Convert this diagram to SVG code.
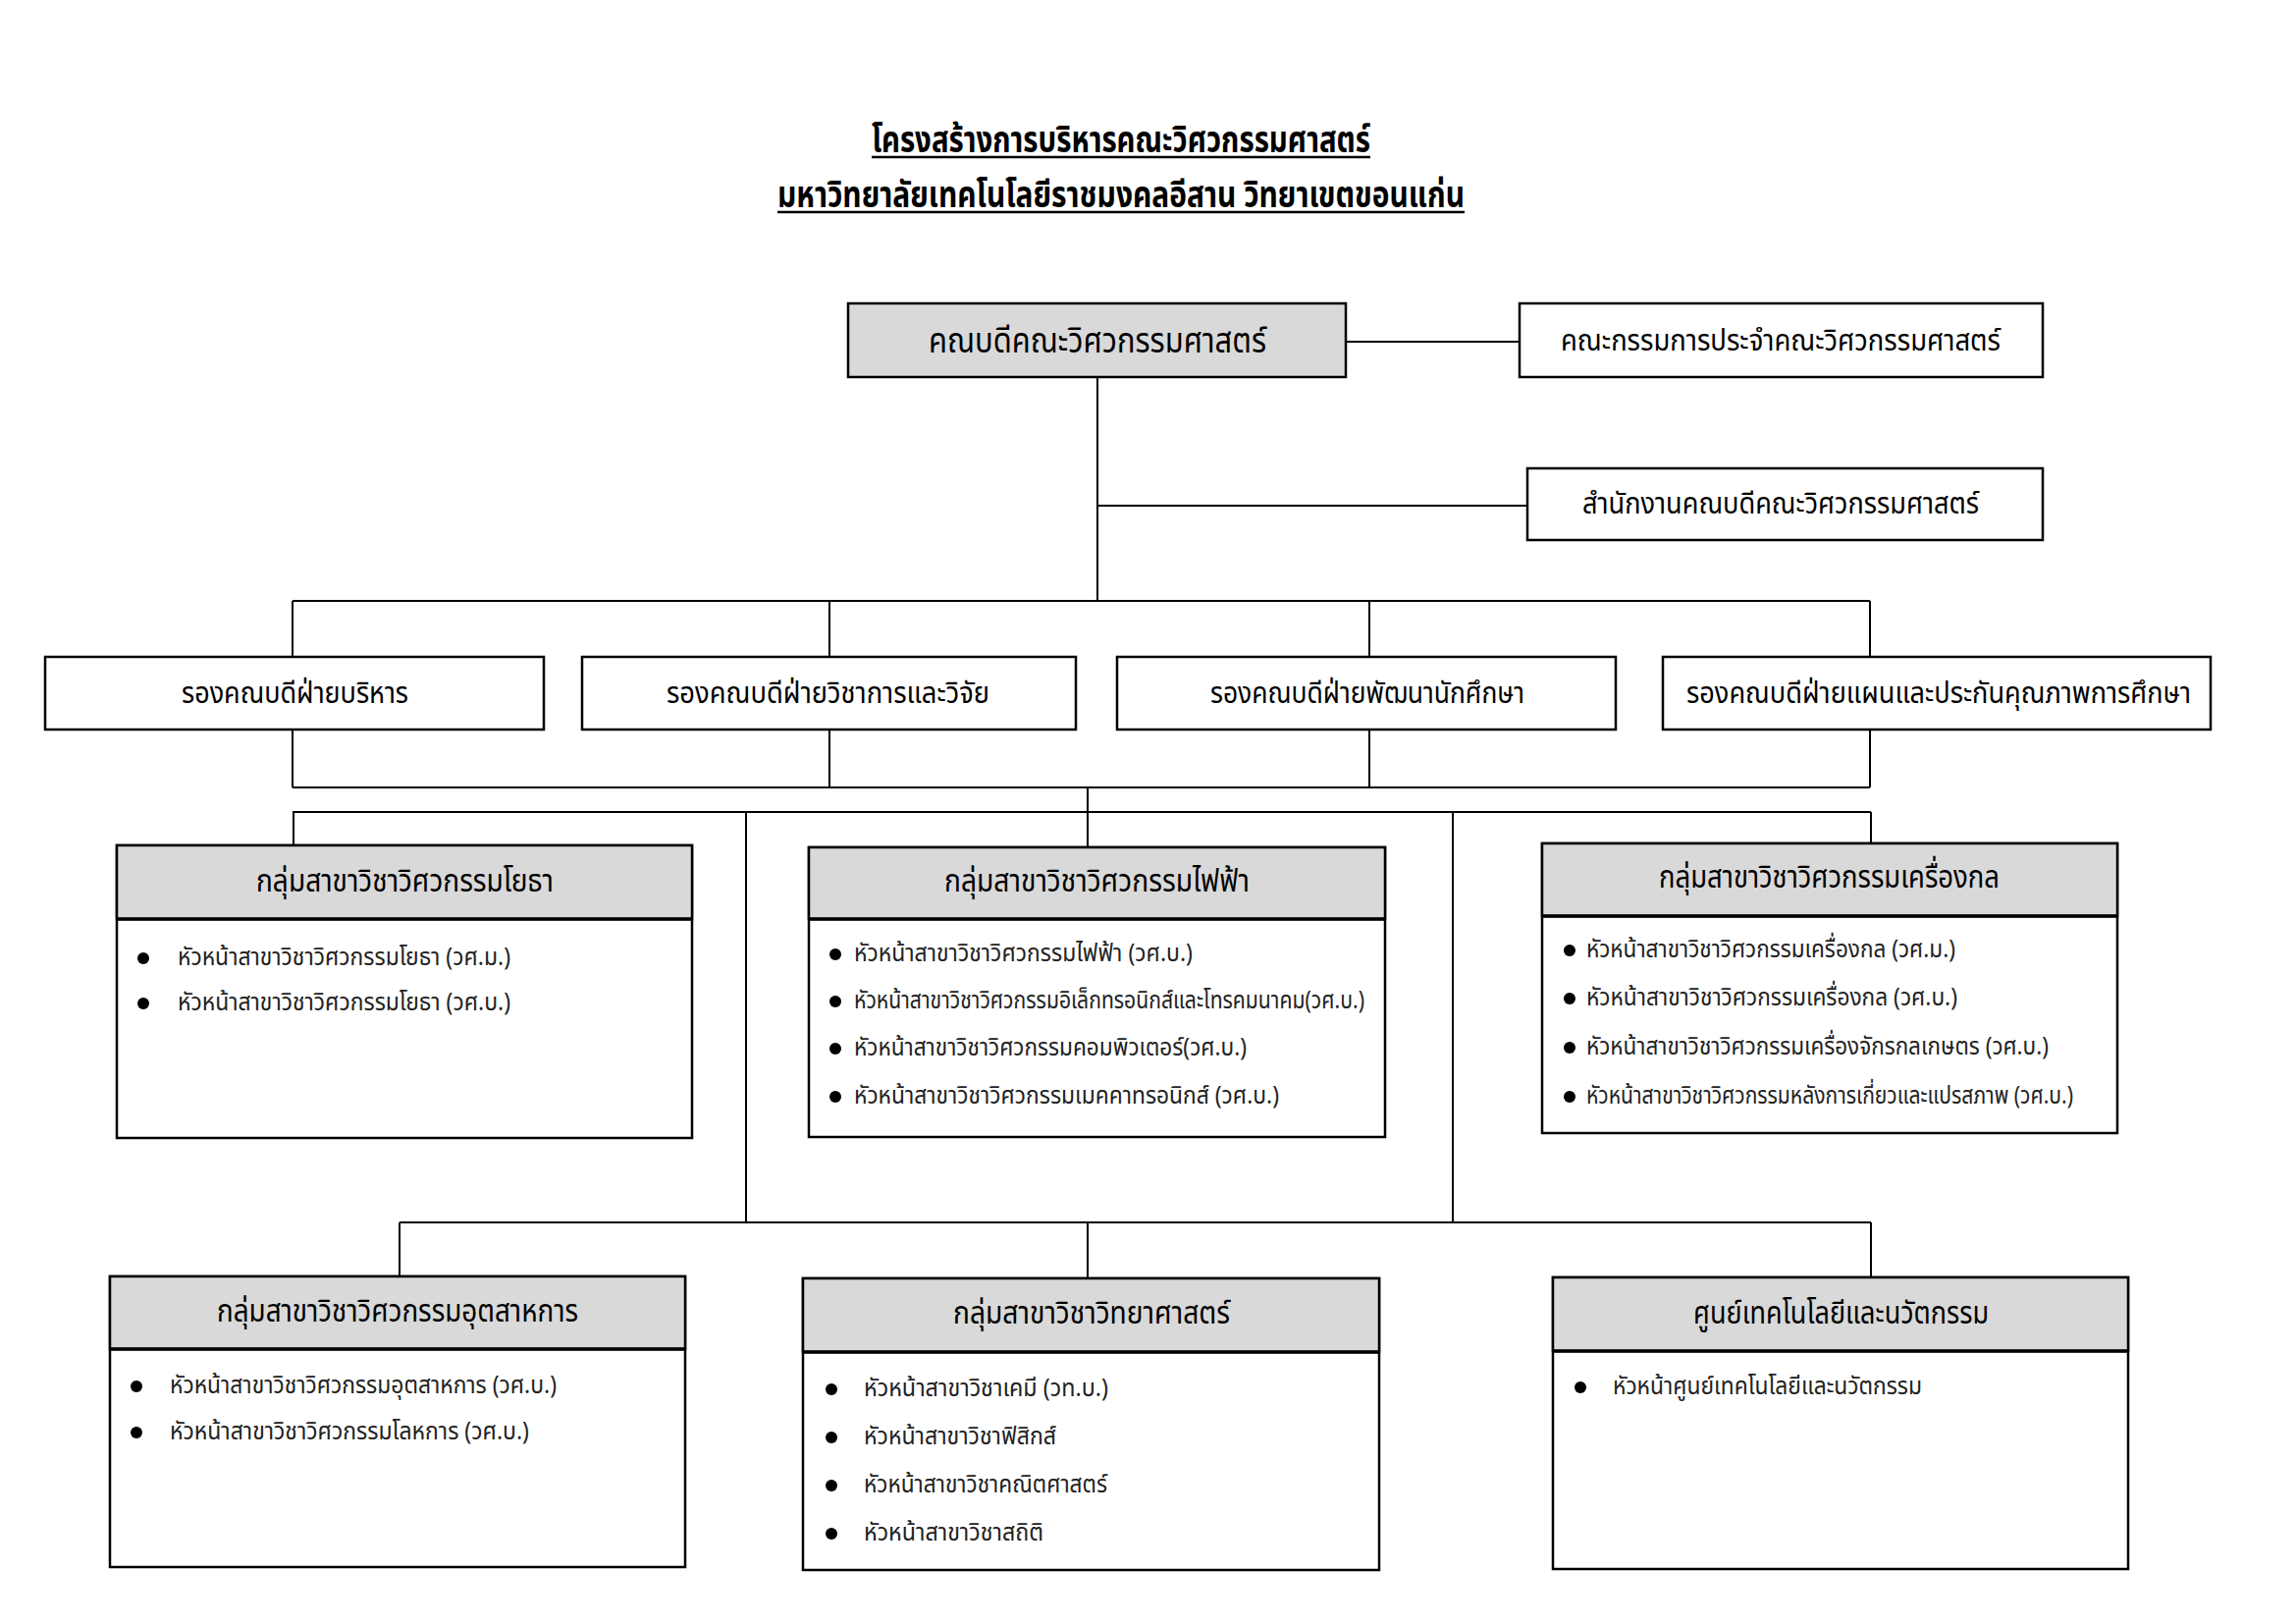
<svg xmlns="http://www.w3.org/2000/svg" width="2339" height="1654" viewBox="0 0 2339 1654">
<style>
.bg{fill:#ffffff}
.box{fill:#ffffff;stroke:#000;stroke-width:2.5}
.gbox{fill:#d9d9d9;stroke:#000;stroke-width:2.5}
.sep{stroke:#000;stroke-width:3.5}
.con{fill:none;stroke:#000;stroke-width:2}
.ul{stroke:#000;stroke-width:2.5}
text{font-family:"Noto Sans Thai","Noto Sans","DejaVu Sans",sans-serif;fill:#000}
.title{font-size:37px;font-weight:bold}
.t1{font-size:36px}
.t2{font-size:31px}
.hd{font-size:32px}
.it{font-size:25px;fill:#222}
.dot{fill:#000}
</style>
<rect class="bg" x="0" y="0" width="2339" height="1654"/>
<g id="title">
<text class="title" x="888" y="155" textLength="508" lengthAdjust="spacingAndGlyphs">โครงสร้างการบริหารคณะวิศวกรรมศาสตร์</text>
<text class="title" x="792" y="211" textLength="700" lengthAdjust="spacingAndGlyphs">มหาวิทยาลัยเทคโนโลยีราชมงคลอีสาน วิทยาเขตขอนแก่น</text>
<line class="ul" x1="888" y1="160" x2="1396" y2="160"/>
<line class="ul" x1="792" y1="216" x2="1492" y2="216"/>
</g>
<g id="connectors">
<line class="con" x1="1371" y1="348" x2="1548" y2="348"/>
<line class="con" x1="1118" y1="384" x2="1118" y2="612"/>
<line class="con" x1="1118" y1="515" x2="1556" y2="515"/>
<line class="con" x1="298" y1="612" x2="1905" y2="612"/>
<line class="con" x1="298" y1="612" x2="298" y2="669"/>
<line class="con" x1="845" y1="612" x2="845" y2="669"/>
<line class="con" x1="1395" y1="612" x2="1395" y2="669"/>
<line class="con" x1="1905" y1="612" x2="1905" y2="669"/>
<line class="con" x1="298" y1="743" x2="298" y2="802"/>
<line class="con" x1="845" y1="743" x2="845" y2="802"/>
<line class="con" x1="1395" y1="743" x2="1395" y2="802"/>
<line class="con" x1="1905" y1="743" x2="1905" y2="802"/>
<line class="con" x1="298" y1="802" x2="1905" y2="802"/>
<line class="con" x1="1108" y1="802" x2="1108" y2="863"/>
<line class="con" x1="298" y1="827" x2="1906" y2="827"/>
<line class="con" x1="299" y1="827" x2="299" y2="861"/>
<line class="con" x1="1906" y1="827" x2="1906" y2="859"/>
<line class="con" x1="760" y1="827" x2="760" y2="1245"/>
<line class="con" x1="1480" y1="827" x2="1480" y2="1245"/>
<line class="con" x1="407" y1="1245" x2="1906" y2="1245"/>
<line class="con" x1="407" y1="1245" x2="407" y2="1300"/>
<line class="con" x1="1108" y1="1245" x2="1108" y2="1302"/>
<line class="con" x1="1906" y1="1245" x2="1906" y2="1301"/>
</g>
<g id="dean">
<rect class="gbox" x="864" y="309" width="507" height="75"/>
<text class="t1" x="946" y="359" textLength="344" lengthAdjust="spacingAndGlyphs">คณบดีคณะวิศวกรรมศาสตร์</text>
</g>
<g id="committee">
<rect class="box" x="1548" y="309" width="533" height="75"/>
<text class="t2" x="1590" y="357" textLength="448" lengthAdjust="spacingAndGlyphs">คณะกรรมการประจำคณะวิศวกรรมศาสตร์</text>
</g>
<g id="office">
<rect class="box" x="1556" y="477" width="525" height="73"/>
<text class="t2" x="1612" y="523" textLength="404" lengthAdjust="spacingAndGlyphs">สำนักงานคณบดีคณะวิศวกรรมศาสตร์</text>
</g>
<g id="vp1">
<rect class="box" x="46" y="669" width="508" height="74"/>
<text class="t2" x="185" y="716" textLength="231" lengthAdjust="spacingAndGlyphs">รองคณบดีฝ่ายบริหาร</text>
</g>
<g id="vp2">
<rect class="box" x="593" y="669" width="503" height="74"/>
<text class="t2" x="679" y="716" textLength="329" lengthAdjust="spacingAndGlyphs">รองคณบดีฝ่ายวิชาการและวิจัย</text>
</g>
<g id="vp3">
<rect class="box" x="1138" y="669" width="508" height="74"/>
<text class="t2" x="1233" y="716" textLength="320" lengthAdjust="spacingAndGlyphs">รองคณบดีฝ่ายพัฒนานักศึกษา</text>
</g>
<g id="vp4">
<rect class="box" x="1694" y="669" width="558" height="74"/>
<text class="t2" x="1718" y="716" textLength="514" lengthAdjust="spacingAndGlyphs">รองคณบดีฝ่ายแผนและประกันคุณภาพการศึกษา</text>
</g>
<g id="civil">
<rect class="box" x="119" y="861" width="586" height="298"/>
<rect class="gbox" x="119" y="861" width="586" height="75"/>
<line class="sep" x1="119" y1="936" x2="705" y2="936"/>
<text class="hd" x="261" y="908" textLength="303" lengthAdjust="spacingAndGlyphs">กลุ่มสาขาวิชาวิศวกรรมโยธา</text>
<circle class="dot" cx="146" cy="976" r="6"/>
<text class="it" x="181" y="983" textLength="339" lengthAdjust="spacingAndGlyphs">หัวหน้าสาขาวิชาวิศวกรรมโยธา (วศ.ม.)</text>
<circle class="dot" cx="146" cy="1022" r="6"/>
<text class="it" x="181" y="1029" textLength="339" lengthAdjust="spacingAndGlyphs">หัวหน้าสาขาวิชาวิศวกรรมโยธา (วศ.บ.)</text>
</g>
<g id="electrical">
<rect class="box" x="824" y="863" width="587" height="295"/>
<rect class="gbox" x="824" y="863" width="587" height="73"/>
<line class="sep" x1="824" y1="936" x2="1411" y2="936"/>
<text class="hd" x="962" y="908" textLength="311" lengthAdjust="spacingAndGlyphs">กลุ่มสาขาวิชาวิศวกรรมไฟฟ้า</text>
<circle class="dot" cx="851" cy="972" r="6"/>
<text class="it" x="870" y="979" textLength="345" lengthAdjust="spacingAndGlyphs">หัวหน้าสาขาวิชาวิศวกรรมไฟฟ้า (วศ.บ.)</text>
<circle class="dot" cx="851" cy="1020" r="6"/>
<text class="it" x="870" y="1027" textLength="520" lengthAdjust="spacingAndGlyphs">หัวหน้าสาขาวิชาวิศวกรรมอิเล็กทรอนิกส์และโทรคมนาคม(วศ.บ.)</text>
<circle class="dot" cx="851" cy="1068" r="6"/>
<text class="it" x="870" y="1075" textLength="400" lengthAdjust="spacingAndGlyphs">หัวหน้าสาขาวิชาวิศวกรรมคอมพิวเตอร์(วศ.บ.)</text>
<circle class="dot" cx="851" cy="1117" r="6"/>
<text class="it" x="870" y="1124" textLength="433" lengthAdjust="spacingAndGlyphs">หัวหน้าสาขาวิชาวิศวกรรมเมคคาทรอนิกส์ (วศ.บ.)</text>
</g>
<g id="mechanical">
<rect class="box" x="1571" y="859" width="586" height="295"/>
<rect class="gbox" x="1571" y="859" width="586" height="74"/>
<line class="sep" x1="1571" y1="933" x2="2157" y2="933"/>
<text class="hd" x="1690" y="904" textLength="347" lengthAdjust="spacingAndGlyphs">กลุ่มสาขาวิชาวิศวกรรมเครื่องกล</text>
<circle class="dot" cx="1599" cy="968" r="6"/>
<text class="it" x="1616" y="975" textLength="376" lengthAdjust="spacingAndGlyphs">หัวหน้าสาขาวิชาวิศวกรรมเครื่องกล (วศ.ม.)</text>
<circle class="dot" cx="1599" cy="1017" r="6"/>
<text class="it" x="1616" y="1024" textLength="378" lengthAdjust="spacingAndGlyphs">หัวหน้าสาขาวิชาวิศวกรรมเครื่องกล (วศ.บ.)</text>
<circle class="dot" cx="1599" cy="1067" r="6"/>
<text class="it" x="1616" y="1074" textLength="471" lengthAdjust="spacingAndGlyphs">หัวหน้าสาขาวิชาวิศวกรรมเครื่องจักรกลเกษตร (วศ.บ.)</text>
<circle class="dot" cx="1599" cy="1117" r="6"/>
<text class="it" x="1616" y="1124" textLength="496" lengthAdjust="spacingAndGlyphs">หัวหน้าสาขาวิชาวิศวกรรมหลังการเกี่ยวและแปรสภาพ (วศ.บ.)</text>
</g>
<g id="industrial">
<rect class="box" x="112" y="1300" width="586" height="296"/>
<rect class="gbox" x="112" y="1300" width="586" height="74"/>
<line class="sep" x1="112" y1="1374" x2="698" y2="1374"/>
<text class="hd" x="221" y="1346" textLength="368" lengthAdjust="spacingAndGlyphs">กลุ่มสาขาวิชาวิศวกรรมอุตสาหการ</text>
<circle class="dot" cx="139" cy="1412" r="6"/>
<text class="it" x="173" y="1419" textLength="394" lengthAdjust="spacingAndGlyphs">หัวหน้าสาขาวิชาวิศวกรรมอุตสาหการ (วศ.บ.)</text>
<circle class="dot" cx="139" cy="1459" r="6"/>
<text class="it" x="173" y="1466" textLength="366" lengthAdjust="spacingAndGlyphs">หัวหน้าสาขาวิชาวิศวกรรมโลหการ (วศ.บ.)</text>
</g>
<g id="science">
<rect class="box" x="818" y="1302" width="587" height="297"/>
<rect class="gbox" x="818" y="1302" width="587" height="75"/>
<line class="sep" x1="818" y1="1377" x2="1405" y2="1377"/>
<text class="hd" x="971" y="1348" textLength="282" lengthAdjust="spacingAndGlyphs">กลุ่มสาขาวิชาวิทยาศาสตร์</text>
<circle class="dot" cx="847" cy="1415" r="6"/>
<text class="it" x="880" y="1422" textLength="249" lengthAdjust="spacingAndGlyphs">หัวหน้าสาขาวิชาเคมี (วท.บ.)</text>
<circle class="dot" cx="847" cy="1464" r="6"/>
<text class="it" x="880" y="1471" textLength="196" lengthAdjust="spacingAndGlyphs">หัวหน้าสาขาวิชาฟิสิกส์</text>
<circle class="dot" cx="847" cy="1513" r="6"/>
<text class="it" x="880" y="1520" textLength="248" lengthAdjust="spacingAndGlyphs">หัวหน้าสาขาวิชาคณิตศาสตร์</text>
<circle class="dot" cx="847" cy="1562" r="6"/>
<text class="it" x="880" y="1569" textLength="183" lengthAdjust="spacingAndGlyphs">หัวหน้าสาขาวิชาสถิติ</text>
</g>
<g id="techcenter">
<rect class="box" x="1582" y="1301" width="586" height="297"/>
<rect class="gbox" x="1582" y="1301" width="586" height="75"/>
<line class="sep" x1="1582" y1="1376" x2="2168" y2="1376"/>
<text class="hd" x="1725" y="1348" textLength="301" lengthAdjust="spacingAndGlyphs">ศูนย์เทคโนโลยีและนวัตกรรม</text>
<circle class="dot" cx="1610" cy="1413" r="6"/>
<text class="it" x="1643" y="1420" textLength="315" lengthAdjust="spacingAndGlyphs">หัวหน้าศูนย์เทคโนโลยีและนวัตกรรม</text>
</g>
</svg>
